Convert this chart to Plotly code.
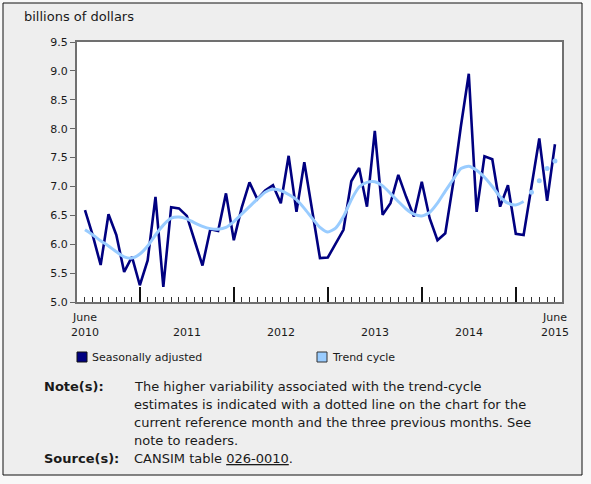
import plotly.graph_objects as go

# ---- data ----
months = [f"{2010 + (5 + i) // 12}-{(5 + i) % 12 + 1:02d}" for i in range(61)]
month_index = list(range(61))

seasonally_adjusted = [
    6.59, 6.15, 5.64, 6.52, 6.16, 5.52, 5.78, 5.29, 5.72, 6.82,
    5.26, 6.64, 6.62, 6.49, 6.06, 5.63, 6.26, 6.23, 6.88, 6.07,
    6.63, 7.07, 6.78, 6.93, 7.02, 6.71, 7.53, 6.56, 7.42, 6.55,
    5.76, 5.77, 6.02, 6.25, 7.09, 7.32, 6.65, 7.96, 6.51, 6.71,
    7.20, 6.82, 6.48, 7.08, 6.45, 6.07, 6.19, 7.05, 8.05, 8.95,
    6.56, 7.52, 7.47, 6.65, 7.02, 6.18, 6.16, 7.02, 7.83, 6.75,
    7.73,
]
trend_cycle = [
    6.25, 6.16, 6.06, 5.97, 5.87, 5.78, 5.76, 5.83, 5.97, 6.16,
    6.33, 6.45, 6.47, 6.44, 6.37, 6.31, 6.27, 6.26, 6.29, 6.39,
    6.52, 6.65, 6.78, 6.90, 6.95, 6.93, 6.86, 6.77, 6.62, 6.45,
    6.29, 6.21, 6.28, 6.48, 6.77, 6.99, 7.07, 7.08, 7.01, 6.88,
    6.74, 6.61, 6.52, 6.49, 6.55, 6.71, 6.92, 7.12, 7.31, 7.35,
    7.28, 7.16, 7.00, 6.82, 6.71, 6.68, 6.74, 6.90, 7.10, 7.31,
    7.44,
]
n_dotted = 4  # last four trend points are shown dotted

year_tick_index = [7, 19, 31, 43, 55]          # January of each year
year_labels = ["2010", "2011", "2012", "2013", "2014", "2015"]
year_label_index = [0, 13, 25, 37, 49, 60]
y_ticks = [5.0, 5.5, 6.0, 6.5, 7.0, 7.5, 8.0, 8.5, 9.0, 9.5]

legend_names = ["Seasonally adjusted", "Trend cycle"]
note_lines = [
    "The higher variability associated with the trend-cycle",
    "estimates is indicated with a dotted line on the chart for the",
    "current reference month and the three previous months. See",
    "note to readers.",
]

# ---- styles / layout geometry ----
W, H = 591, 484
L, R, T, B = 77, 562, 42, 302
NAVY = "#000080"
LIGHT = "#99ccff"
FONT = "DejaVu Sans, Verdana, sans-serif"
TXT = "#1a1a1a"
PAGE_BG = "#f8f8f8"


def px(x):
    return (x - L) / (R - L)


def py(y):
    return (B - y) / (B - T)


fig = go.Figure()
fig.add_trace(go.Scatter(
    x=month_index, y=seasonally_adjusted, mode="lines", name=legend_names[0],
    line=dict(color=NAVY, width=2.6), text=months, showlegend=False,
))
cut = len(trend_cycle) - n_dotted
fig.add_trace(go.Scatter(
    x=month_index[:cut], y=trend_cycle[:cut], mode="lines", name=legend_names[1],
    line=dict(color=LIGHT, width=3, shape="spline", smoothing=0.6),
    text=months[:cut], showlegend=False,
))
fig.add_trace(go.Scatter(
    x=month_index[cut:], y=trend_cycle[cut:], mode="markers", name=legend_names[1],
    marker=dict(color=LIGHT, size=5), text=months[cut:], showlegend=False,
))

shapes = [
    dict(type="rect", xref="paper", yref="paper", x0=px(3), x1=px(582),
         y0=py(475), y1=py(3), fillcolor="#eeeeee",
         line=dict(color="#111111", width=1), layer="below"),
    dict(type="rect", xref="paper", yref="paper", x0=0, x1=1, y0=0, y1=1,
         fillcolor="white", line=dict(width=0), layer="below"),
    dict(type="rect", xref="paper", yref="paper", x0=px(77), x1=px(87),
         y0=py(362), y1=py(352), fillcolor=NAVY,
         line=dict(color="#111111", width=1)),
    dict(type="rect", xref="paper", yref="paper", x0=px(317), x1=px(327),
         y0=py(362), y1=py(352), fillcolor=LIGHT,
         line=dict(color="#333333", width=1)),
]

annotations = [
    dict(text="billions of dollars", xref="paper", yref="paper", x=px(22), y=py(17),
         xanchor="left", yanchor="middle", showarrow=False,
         font=dict(family=FONT, size=13, color=TXT)),
]
for idx, lab in zip(year_label_index, year_labels):
    annotations.append(dict(text=lab, xref="x", yref="paper", x=idx, y=py(332),
                            xanchor="center", yanchor="middle", showarrow=False,
                            font=dict(family=FONT, size=11, color=TXT)))
for idx in (year_label_index[0], year_label_index[-1]):
    annotations.append(dict(text="June", xref="x", yref="paper", x=idx, y=py(317),
                            xanchor="center", yanchor="middle", showarrow=False,
                            font=dict(family=FONT, size=11, color=TXT)))
annotations.append(dict(text=legend_names[0], xref="paper", yref="paper", x=px(90), y=py(357),
                        xanchor="left", yanchor="middle", showarrow=False,
                        font=dict(family=FONT, size=11, color=TXT)))
annotations.append(dict(text=legend_names[1], xref="paper", yref="paper", x=px(330), y=py(357),
                        xanchor="left", yanchor="middle", showarrow=False,
                        font=dict(family=FONT, size=11, color=TXT)))
annotations.append(dict(text="<b>Note(s):</b>", xref="paper", yref="paper", x=px(42), y=py(386),
                        xanchor="left", yanchor="middle", showarrow=False,
                        font=dict(family=FONT, size=13, color=TXT)))
for i, line in enumerate(note_lines):
    annotations.append(dict(text=line, xref="paper", yref="paper", x=px(132), y=py(386 + 18 * i),
                            xanchor="left", yanchor="middle", showarrow=False,
                            font=dict(family=FONT, size=13, color=TXT)))
annotations.append(dict(text="<b>Source(s):</b>", xref="paper", yref="paper", x=px(42), y=py(458),
                        xanchor="left", yanchor="middle", showarrow=False,
                        font=dict(family=FONT, size=13, color=TXT)))
annotations.append(dict(
    text='CANSIM table <span style="text-decoration:underline">026-0010</span>.',
    xref="paper", yref="paper", x=px(132), y=py(458),
    xanchor="left", yanchor="middle", showarrow=False,
    font=dict(family=FONT, size=13, color=TXT)))

fig.update_layout(
    width=W, height=H,
    margin=dict(l=L, r=W - R, t=T, b=H - B, pad=0),
    paper_bgcolor=PAGE_BG,
    plot_bgcolor="rgba(0,0,0,0)",
    shapes=shapes,
    annotations=annotations,
    showlegend=False,
    font=dict(family=FONT, size=11, color=TXT),
    xaxis=dict(
        range=[-1.02, 60.9], showgrid=False, zeroline=False,
        showline=True, linecolor="#707070", linewidth=2, mirror=True,
        tickmode="array", tickvals=year_tick_index, ticks="inside", ticklen=15,
        tickwidth=1.5, tickcolor="#111111", showticklabels=False,
        minor=dict(tickmode="array", tickvals=month_index, ticks="inside",
                   ticklen=5, tickwidth=1, tickcolor="#333333"),
    ),
    yaxis=dict(
        range=[5.0, 9.5], showgrid=False, zeroline=False,
        showline=True, linecolor="#707070", linewidth=2, mirror=True,
        tickmode="array", tickvals=y_ticks, tickformat=".1f",
        ticks="outside", ticklen=5, tickwidth=1, tickcolor="#666666",
        tickfont=dict(family=FONT, size=11, color=TXT),
    ),
)

fig.write_html(
    "out.html",
    config={"displayModeBar": False},
    post_script=(
        "document.body.style.margin='0';"
        "document.body.style.padding='0';"
        "document.body.style.overflow='hidden';"
        f"document.body.style.background='{PAGE_BG}';"
    ),
)
